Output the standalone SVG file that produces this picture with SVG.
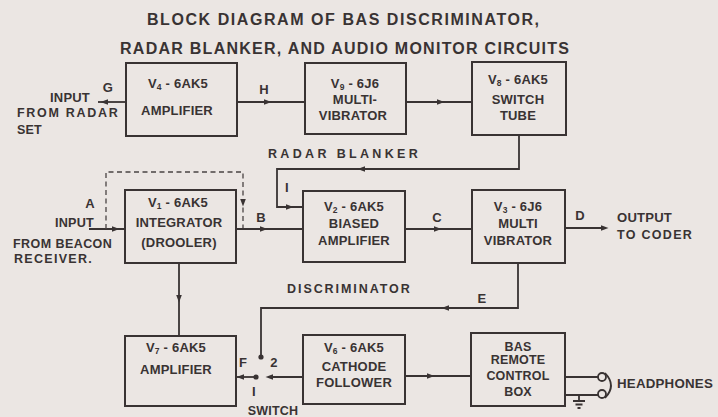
<svg xmlns="http://www.w3.org/2000/svg" xmlns:xlink="http://www.w3.org/1999/xlink" width="718" height="417" viewBox="0 0 718 417">
<style>
text{font-family:"Liberation Sans",Arial,sans-serif;font-weight:bold;fill:#393333;letter-spacing:0.2px}
.t{font-size:16px;letter-spacing:1px}
.b{font-size:13px;text-anchor:middle}
.s{font-size:12.5px;text-anchor:middle}
.l{font-size:12.5px}
.lab{font-size:13px;text-anchor:middle}
.box{fill:none;stroke:#393333;stroke-width:2}
.w{fill:none;stroke:#393333;stroke-width:1.8}
.d{fill:none;stroke:#4a4444;stroke-width:1.3;stroke-dasharray:5 3.5}
.ah{fill:#393333}
.sub{font-size:8.5px}
</style>
<defs>
<path id="ah" d="M3.5,0 L-4,-2.8 L-4,2.8 Z"/>
</defs>
<rect width="718" height="417" fill="#ebe6e3"/>
<text class="t" x="147" y="25" textLength="393" lengthAdjust="spacing">BLOCK DIAGRAM OF  BAS DISCRIMINATOR,</text>
<text class="t" x="120" y="54" textLength="450" lengthAdjust="spacing">RADAR  BLANKER,  AND  AUDIO  MONITOR  CIRCUITS</text>

<g id="connectors">
<path class="w" d="M98,102 H126"/>
<path class="w" d="M237,102 H305"/>
<path class="w" d="M406,102 H472"/>
<path class="w" d="M519,135 V169 H277 V207 H303"/>
<path class="w" d="M89,229 H125"/>
<path class="d" d="M106,229 V172 H243 V229"/>
<path class="w" d="M236,229 H303"/>
<path class="w" d="M405,229 H472"/>
<path class="w" d="M565,228 H603"/>
<path class="w" d="M179,263 V336"/>
<path class="w" d="M518,263 V308 H261 V357"/>
<path class="w" d="M236,377 H256"/>
<path class="w" d="M303,377 H270"/>
<path class="w" d="M405,376 H471"/>
<path class="w" d="M565,377 H598 M565,395 H598"/>
<circle class="w" cx="602" cy="377" r="4"/>
<circle class="w" cx="602" cy="394" r="4"/>
<path class="w" d="M605,373 Q617,385.5 605,398"/>
<path class="w" d="M579,395 V401 M573,401 H585 M575.5,404.5 H582.5 M577.5,408 H580.5"/>
<circle class="ah" cx="256" cy="377" r="2.6"/>
<circle class="ah" cx="261" cy="357" r="2.6"/>
<use xlink:href="#ah" class="ah" transform="translate(104,102) rotate(180)"/>
<use xlink:href="#ah" class="ah" transform="translate(268,102)"/>
<use xlink:href="#ah" class="ah" transform="translate(441,102)"/>
<use xlink:href="#ah" class="ah" transform="translate(361,169) rotate(180)"/>
<use xlink:href="#ah" class="ah" transform="translate(290,207)"/>
<use xlink:href="#ah" class="ah" transform="translate(116,229)"/>
<use xlink:href="#ah" class="ah" transform="translate(243,203) rotate(90)"/>
<use xlink:href="#ah" class="ah" transform="translate(264,229)"/>
<use xlink:href="#ah" class="ah" transform="translate(438,229)"/>
<use xlink:href="#ah" class="ah" transform="translate(605,228)"/>
<use xlink:href="#ah" class="ah" transform="translate(179,299) rotate(90)"/>
<use xlink:href="#ah" class="ah" transform="translate(445,308) rotate(180)"/>
<use xlink:href="#ah" class="ah" transform="translate(240,377) rotate(180)"/>
<use xlink:href="#ah" class="ah" transform="translate(269,377) rotate(180)"/>
<use xlink:href="#ah" class="ah" transform="translate(431,376)"/>
</g>

<g id="labels">
<text class="lab" x="108" y="92">G</text>
<text class="lab" x="264" y="94">H</text>
<text class="lab" x="287" y="192">I</text>
<text class="lab" x="90" y="208">A</text>
<text class="lab" x="261" y="222">B</text>
<text class="lab" x="437" y="222">C</text>
<text class="lab" x="580" y="220">D</text>
<text class="lab" x="482" y="303">E</text>
<text class="lab" x="243" y="367">F</text>
<text class="lab" x="274" y="367">2</text>
<text class="lab" x="254" y="396">I</text>
<text class="s" x="273" y="415">SWITCH</text>
<text class="l" x="50" y="102" textLength="40" lengthAdjust="spacingAndGlyphs">INPUT</text>
<text class="l" x="17" y="117" textLength="101" lengthAdjust="spacing">FROM  RADAR</text>
<text class="l" x="17" y="134">SET</text>
<text class="l" x="55" y="227" textLength="39" lengthAdjust="spacingAndGlyphs">INPUT</text>
<text class="l" x="13" y="248" textLength="99" lengthAdjust="spacing">FROM BEACON</text>
<text class="l" x="14" y="263" textLength="78" lengthAdjust="spacing">RECEIVER.</text>
<text class="l" x="268" y="158" textLength="150" lengthAdjust="spacing">RADAR  BLANKER</text>
<text class="l" x="287" y="293" textLength="123" lengthAdjust="spacing">DISCRIMINATOR</text>
<text class="l" x="617" y="222" textLength="55" lengthAdjust="spacingAndGlyphs">OUTPUT</text>
<text class="l" x="617" y="239" textLength="75" lengthAdjust="spacing">TO  CODER</text>
<text class="l" x="617" y="388" textLength="96" lengthAdjust="spacingAndGlyphs">HEADPHONES</text>
</g>

<g id="v4">
<rect class="box" x="126" y="63" width="111" height="73"/>
<text class="b" x="178" y="88">V<tspan class="sub" dy="2">4</tspan><tspan dy="-2"> - 6AK5</tspan></text>
<text class="b" x="177" y="115">AMPLIFIER</text>
</g>
<g id="v9">
<rect class="box" x="305" y="63" width="101" height="71"/>
<text class="b" x="355" y="88">V<tspan class="sub" dy="2">9</tspan><tspan dy="-2"> - 6J6</tspan></text>
<text class="b" x="355" y="104">MULTI-</text>
<text class="b" x="353" y="120">VIBRATOR</text>
</g>
<g id="v8">
<rect class="box" x="472" y="62" width="94" height="73"/>
<text class="b" x="518" y="84">V<tspan class="sub" dy="2">8</tspan><tspan dy="-2"> - 6AK5</tspan></text>
<text class="b" x="518" y="104">SWITCH</text>
<text class="b" x="518" y="120">TUBE</text>
</g>
<g id="v1">
<rect class="box" x="125" y="190" width="111" height="73"/>
<text class="b" x="178" y="207">V<tspan class="sub" dy="2">1</tspan><tspan dy="-2"> - 6AK5</tspan></text>
<text class="b" x="179" y="227">INTEGRATOR</text>
<text class="b" x="179" y="247">(DROOLER)</text>
</g>
<g id="v2">
<rect class="box" x="303" y="191" width="102" height="71"/>
<text class="b" x="354" y="211">V<tspan class="sub" dy="2">2</tspan><tspan dy="-2"> - 6AK5</tspan></text>
<text class="b" x="354" y="228">BIASED</text>
<text class="b" x="354" y="245">AMPLIFIER</text>
</g>
<g id="v3">
<rect class="box" x="472" y="190" width="93" height="73"/>
<text class="b" x="518" y="211">V<tspan class="sub" dy="2">3</tspan><tspan dy="-2"> - 6J6</tspan></text>
<text class="b" x="518" y="228">MULTI</text>
<text class="b" x="518" y="245">VIBRATOR</text>
</g>
<g id="v7">
<rect class="box" x="125" y="336" width="111" height="70"/>
<text class="b" x="176" y="352">V<tspan class="sub" dy="2">7</tspan><tspan dy="-2"> - 6AK5</tspan></text>
<text class="b" x="176" y="374">AMPLIFIER</text>
</g>
<g id="v6">
<rect class="box" x="303" y="335" width="102" height="69"/>
<text class="b" x="354" y="352">V<tspan class="sub" dy="2">6</tspan><tspan dy="-2"> - 6AK5</tspan></text>
<text class="b" x="354" y="371">CATHODE</text>
<text class="b" x="354" y="387">FOLLOWER</text>
</g>
<g id="bas">
<rect class="box" x="471" y="333" width="94" height="73"/>
<text class="s" x="518" y="351">BAS</text>
<text class="s" x="518" y="364">REMOTE</text>
<text class="s" x="518" y="380">CONTROL</text>
<text class="s" x="518" y="396">BOX</text>
</g>
</svg>
